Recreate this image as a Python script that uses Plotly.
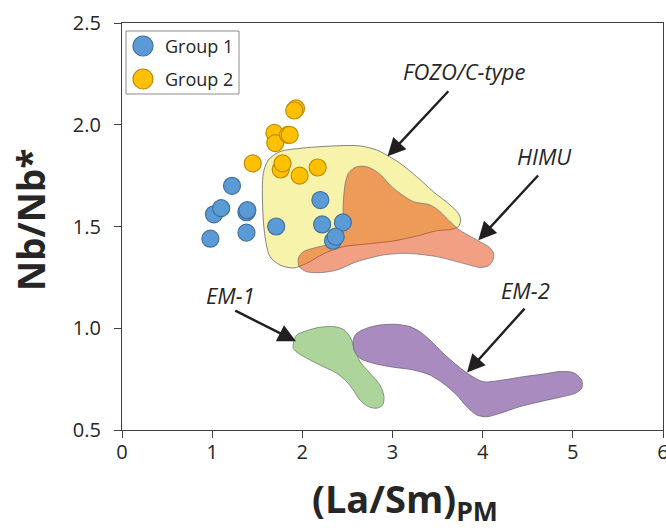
import plotly.graph_objects as go

# Sample data: (La/Sm)PM vs Nb/Nb*
group1_x = [0.98, 1.02, 1.10, 1.22, 1.38, 1.39, 1.38, 1.71, 2.20, 2.22, 2.45, 2.34, 2.37]
group1_y = [1.44, 1.56, 1.59, 1.70, 1.57, 1.58, 1.47, 1.50, 1.63, 1.51, 1.52, 1.43, 1.45]

group2_x = [1.93, 1.91, 1.69, 1.70, 1.84, 1.86, 1.45, 1.76, 1.78, 1.97, 2.17]
group2_y = [2.08, 2.07, 1.96, 1.91, 1.95, 1.95, 1.81, 1.78, 1.81, 1.75, 1.79]

# Mantle end-member fields (outline vertices)
fozo_x = [1.567, 1.623, 1.752, 1.974, 2.343, 2.640, 2.825, 2.936, 3.083, 3.268, 3.453,
          3.638, 3.730, 3.756, 3.730, 3.656, 3.490, 3.268, 3.009, 2.714, 2.454, 2.232,
          2.048, 1.900, 1.752, 1.641, 1.586, 1.560, 1.567]
fozo_y = [1.761, 1.827, 1.868, 1.884, 1.896, 1.896, 1.876, 1.851, 1.811, 1.745, 1.671,
          1.606, 1.565, 1.532, 1.499, 1.486, 1.479, 1.453, 1.429, 1.414, 1.401, 1.365,
          1.319, 1.296, 1.311, 1.352, 1.450, 1.597, 1.761]

himu_x = [2.510, 2.584, 2.662, 2.739, 2.825, 2.883, 2.972, 3.083, 3.231, 3.416, 3.527,
          3.638, 3.726, 3.837, 3.970, 4.070, 4.120, 4.114, 4.062, 3.970, 3.785, 3.490,
          3.157, 2.898, 2.603, 2.381, 2.196, 2.048, 1.966, 1.955, 2.011, 2.159, 2.343,
          2.437, 2.451, 2.454, 2.473, 2.510]
himu_y = [1.761, 1.790, 1.797, 1.790, 1.769, 1.748, 1.704, 1.663, 1.622, 1.606, 1.573,
          1.524, 1.488, 1.458, 1.425, 1.399, 1.370, 1.335, 1.306, 1.299, 1.319, 1.352,
          1.368, 1.360, 1.327, 1.286, 1.273, 1.278, 1.302, 1.344, 1.376, 1.398, 1.417,
          1.442, 1.516, 1.614, 1.704, 1.761]

em1_x = [1.900, 1.937, 2.048, 2.196, 2.343, 2.454, 2.529, 2.584, 2.639, 2.750, 2.861,
         2.906, 2.891, 2.825, 2.732, 2.639, 2.565, 2.492, 2.381, 2.233, 2.085, 1.955,
         1.900, 1.900]
em1_y = [0.926, 0.967, 0.988, 1.005, 1.008, 0.995, 0.958, 0.893, 0.836, 0.779, 0.721,
         0.664, 0.623, 0.607, 0.615, 0.647, 0.697, 0.737, 0.779, 0.811, 0.844, 0.877,
         0.901, 0.926]

em2_x = [2.565, 2.603, 2.714, 2.861, 3.046, 3.194, 3.305, 3.416, 3.563, 3.712, 3.859,
         4.007, 4.229, 4.451, 4.672, 4.857, 5.005, 5.098, 5.098, 5.024, 4.857, 4.636,
         4.414, 4.192, 4.045, 3.934, 3.823, 3.712, 3.563, 3.416, 3.231, 2.972, 2.787,
         2.639, 2.573, 2.565]
em2_y = [0.942, 0.975, 1.000, 1.016, 1.019, 1.008, 0.983, 0.942, 0.877, 0.819, 0.770,
         0.737, 0.746, 0.762, 0.775, 0.787, 0.782, 0.746, 0.705, 0.680, 0.661, 0.639,
         0.615, 0.582, 0.565, 0.574, 0.615, 0.672, 0.729, 0.770, 0.795, 0.811, 0.828,
         0.852, 0.893, 0.942]

# Field labels: name, label position, arrow tail, arrow tip
field_names = ["FOZO/C-type", "HIMU", "EM-1", "EM-2"]
label_x = [3.80, 4.69, 1.20, 4.47]
label_y = [2.265, 1.846, 1.163, 1.188]
arrow_tail_x = [3.635, 4.630, 1.240, 4.480]
arrow_tail_y = [2.172, 1.758, 1.090, 1.104]
arrow_tip_x = [2.945, 3.952, 1.930, 3.826]
arrow_tip_y = [1.845, 1.433, 0.936, 0.782]

x_ticks = [0, 1, 2, 3, 4, 5, 6]
y_ticks = [0.5, 1.0, 1.5, 2.0, 2.5]

FONT = "Open Sans, Lato, sans-serif"
TEXT = "#262626"
AXIS = "#404040"

fig = go.Figure()


def field(xs, ys, fill, line):
    fig.add_trace(go.Scatter(
        x=xs, y=ys, mode="lines", fill="toself", fillcolor=fill,
        line=dict(color=line, width=1, shape="spline", smoothing=0.8),
        hoverinfo="skip", showlegend=False))


field(fozo_x, fozo_y, "#f7f3ab", "rgba(110,110,110,0.85)")
field(himu_x, himu_y, "rgba(229,65,7,0.5)", "rgba(110,110,110,0.7)")
field(em1_x, em1_y, "#acd49b", "rgba(110,130,100,0.8)")
field(em2_x, em2_y, "#a98bbf", "rgba(110,100,120,0.8)")

fig.add_trace(go.Scatter(
    x=group1_x, y=group1_y, mode="markers", name="Group 1", showlegend=False,
    marker=dict(size=17, color="#5b9bd5", line=dict(color="#41719c", width=1.2))))
fig.add_trace(go.Scatter(
    x=group2_x, y=group2_y, mode="markers", name="Group 2", showlegend=False,
    marker=dict(size=17, color="#ffc000", line=dict(color="#bc8c00", width=1.2))))

annotations = []
for name, lx, ly, tx, ty, hx, hy in zip(field_names, label_x, label_y,
                                         arrow_tail_x, arrow_tail_y,
                                         arrow_tip_x, arrow_tip_y):
    annotations.append(dict(
        x=hx, y=hy, ax=tx, ay=ty, xref="x", yref="y", axref="x", ayref="y",
        text="", showarrow=True, arrowhead=2, arrowsize=1.5, arrowwidth=2.4,
        arrowcolor="#231f20"))
    annotations.append(dict(
        x=lx, y=ly, xref="x", yref="y", text=name, showarrow=False,
        xanchor="center", yanchor="middle",
        font=dict(family=FONT, size=22, color=TEXT, style="italic")))

# Axis titles
annotations.append(dict(
    x=(405 - 122) / 541, y=-0.172, xref="paper", yref="paper",
    text="<b>(La/Sm)<sub>PM</sub></b>", showarrow=False,
    xanchor="center", yanchor="middle",
    font=dict(family=FONT, size=38, color=TEXT)))
annotations.append(dict(
    x=(31 - 122) / 541, y=(430 - 220) / 407, xref="paper", yref="paper",
    text="<b>Nb/Nb*</b>", showarrow=False, textangle=-90,
    xanchor="center", yanchor="middle",
    font=dict(family=FONT, size=37, color=TEXT)))

# Legend box
legend_names = ["Group 1", "Group 2"]
legend_fill = ["#5b9bd5", "#ffc000"]
legend_line = ["#41719c", "#bc8c00"]
shapes = [dict(type="rect", xref="paper", yref="paper",
               x0=4 / 541, x1=117 / 541, y0=(430 - 94) / 407, y1=(430 - 31) / 407,
               line=dict(color="#8c8c8c", width=1), fillcolor="white", layer="above")]
for i, (nm, fc, lc) in enumerate(zip(legend_names, legend_fill, legend_line)):
    cy = (430 - (46 + 33 * i)) / 407
    shapes.append(dict(type="circle", xref="paper", yref="paper",
                       xsizemode="pixel", ysizemode="pixel",
                       xanchor=21 / 541, yanchor=cy, x0=-10, x1=10, y0=-10, y1=10,
                       fillcolor=fc, line=dict(color=lc, width=1.2), layer="above"))
    annotations.append(dict(x=41 / 541, y=cy, xref="paper", yref="paper", text=nm,
                            showarrow=False, xanchor="left", yanchor="middle",
                            font=dict(family=FONT, size=18, color=TEXT)))

axis_common = dict(
    showgrid=False, zeroline=False, showline=True, mirror=True, automargin=False,
    linecolor=AXIS, linewidth=1.3, ticks="outside", ticklen=7, tickwidth=1.3,
    tickcolor=AXIS, ticklabeloverflow="allow",
    tickfont=dict(family=FONT, size=20, color=TEXT))

fig.update_layout(
    width=666, height=532,
    margin=dict(l=122, r=3, t=23, b=102, autoexpand=False),
    paper_bgcolor="white", plot_bgcolor="white",
    xaxis=dict(range=[0, 6], tickvals=x_ticks, ticklabelstandoff=-3, **axis_common),
    yaxis=dict(range=[0.5, 2.5], tickvals=y_ticks, tickformat=".1f",
               ticklabelstandoff=9, **axis_common),
    annotations=annotations, shapes=shapes, showlegend=False)

fig.write_html("out.html")
